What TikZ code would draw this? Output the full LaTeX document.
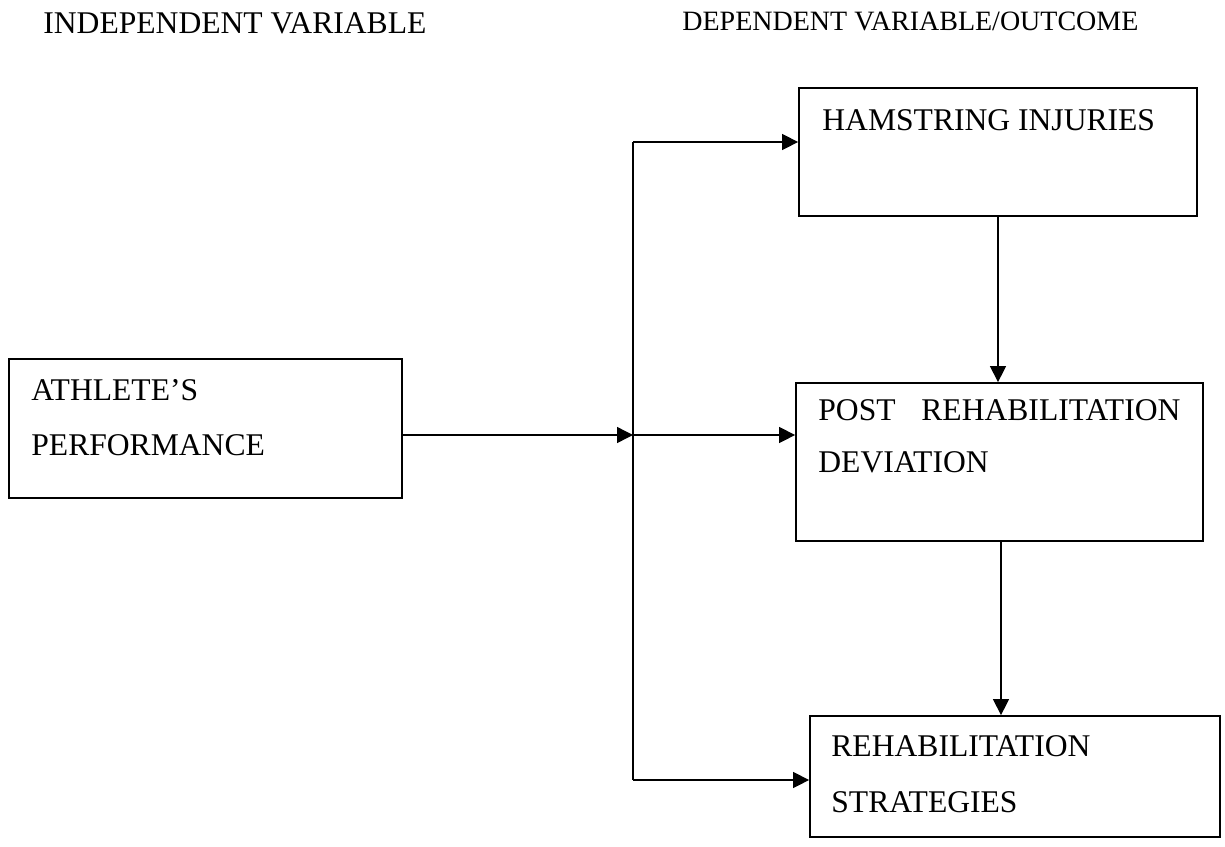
\documentclass[tikz,border=0pt]{standalone}
\usepackage{fontspec}
\setmainfont{Liberation Serif}
\usetikzlibrary{arrows.meta,fit}
\begin{document}
\begin{tikzpicture}[x=0.5pt,y=-0.5pt,
  box/.style={draw,line width=0.9pt,inner sep=0pt},
  txt/.style={anchor=base west,inner sep=0pt,font=\fontsize{15.8}{19}\selectfont},
  head/.style={anchor=base west,inner sep=0pt,font=\fontsize{14}{17}\selectfont},
  conn/.style={line width=0.7pt},
  arr/.style={conn,-{Triangle[length=8pt,width=8pt]}}]
\useasboundingbox (0,0) rectangle (1225,846);
% headings
\node[txt] (indep) at (43,33) {INDEPENDENT VARIABLE};
\node[head] (dep) at (682,30) {DEPENDENT VARIABLE/OUTCOME};
% boxes
\node[box,fit={(9,359) (402,498)}] (ath) {};
\node[box,fit={(799,88) (1197,216)}] (ham) {};
\node[box,fit={(796,383) (1203,541)}] (post) {};
\node[box,fit={(810,716) (1220,837)}] (reh) {};
% box texts
\node[txt] (athA) at (31,400) {ATHLETE’S};
\node[txt] (athB) at (31,455) {PERFORMANCE};
\node[txt] (hamA) at (822,130) {HAMSTRING INJURIES};
\node[txt] (postA) at (818,420) {\makebox[181pt][s]{POST REHABILITATION}};
\node[txt] (postB) at (818,472) {DEVIATION};
\node[txt] (rehA) at (831,756) {REHABILITATION};
\node[txt] (rehB) at (831,812) {STRATEGIES};
% connectors
\coordinate (top) at (633,142);
\coordinate (mid) at (633,435);
\coordinate (bot) at (633,780);
\coordinate (dn) at (1001,0);
\draw[conn] (top) -- (bot);
\draw[arr] (top) -- (top -| ham.west);
\draw[arr] (ath.east |- mid) -- (mid);
\draw[arr] (mid) -- (mid -| post.west);
\draw[arr] (bot) -- (bot -| reh.west);
\draw[arr] (ham.south) -- (ham.south |- post.north);
\draw[arr] (dn |- post.south) -- (dn |- reh.north);
\end{tikzpicture}
\end{document}
